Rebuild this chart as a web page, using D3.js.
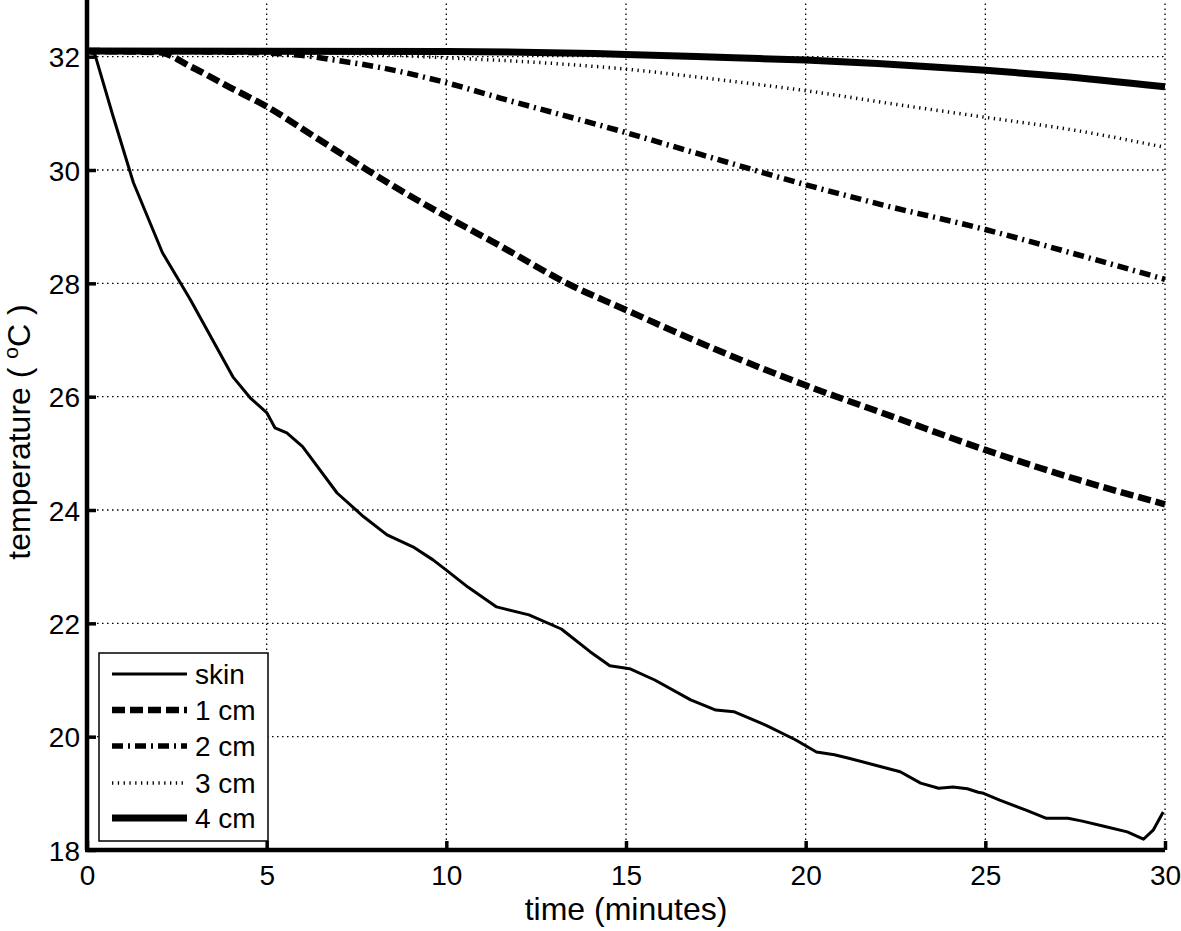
<!DOCTYPE html>
<html><head><meta charset="utf-8">
<script src="https://cdn.jsdelivr.net/npm/d3@7"></script>
<style>body{margin:0;background:#fff}svg{display:block}text{font-family:"Liberation Sans",Arial,sans-serif}</style>
</head><body>
<svg id="c" width="1181" height="931"></svg>
<script>
const xTicks=[0,5,10,15,20,25,30];
const yTicks=[18,20,22,24,26,28,30,32];
const seriesNames=["skin","1 cm","2 cm","3 cm","4 cm"];
const skinT=[0,0.22,0.73,1.29,2.1,2.87,4.06,4.54,5.0,5.23,5.56,6.0,6.96,7.7,8.35,9.07,9.63,10.0,10.6,11.4,12.3,13.2,14.0,14.55,15.1,15.8,16.8,17.5,18.0,18.9,19.7,20.3,20.8,21.2,22.1,22.63,23.2,23.7,24.1,24.5,24.8,24.95,25.4,25.6,26.15,26.7,27.3,27.7,28.3,28.95,29.4,29.67,29.95];
const skinV=[32.1,32.04,30.94,29.78,28.54,27.72,26.35,25.98,25.72,25.45,25.36,25.12,24.3,23.88,23.56,23.35,23.12,22.94,22.64,22.29,22.15,21.9,21.5,21.25,21.2,21.0,20.65,20.47,20.44,20.2,19.95,19.73,19.68,19.62,19.47,19.38,19.18,19.09,19.11,19.08,19.02,19.0,18.88,18.83,18.7,18.56,18.56,18.51,18.42,18.32,18.19,18.35,18.67];
const cm1T=[0,2,2.87,4,5,6.3,7.7,8.7,10,11.5,13.36,15,18,20,22.5,25,27.6,30];
const cm1V=[32.1,32.08,31.83,31.45,31.12,30.6,30.04,29.65,29.18,28.66,28.0,27.53,26.7,26.2,25.63,25.06,24.53,24.1];
const cm2T=[0,4,5.85,7,8.15,10,11.5,15,17.1,20,22.1,25,27.6,30];
const cm2V=[32.1,32.08,32.03,31.93,31.81,31.54,31.27,30.66,30.27,29.74,29.39,28.95,28.5,28.07];
const cm3T=[0,5,8,10,12.5,15,17.5,20,22.6,25,27.5,30];
const cm3V=[32.1,32.08,32.04,31.98,31.9,31.78,31.6,31.4,31.15,30.93,30.7,30.4];
const cm4T=[0,10,15,18,20,22,25,27,30];
const cm4V=[32.1,32.09,32.04,31.98,31.94,31.88,31.76,31.66,31.47];

const svg=d3.select("#c");
const L=87,R=1165,T=0,B=850;
const x=d3.scaleLinear().domain([0,30]).range([L,R]);
const y=d3.scaleLinear().domain([18,33]).range([B,T]);

// grid
const g=svg.append("g");
g.selectAll("line.vg").data(xTicks.filter(d=>d>0)).join("line")
 .attr("x1",d=>x(d)).attr("x2",d=>x(d)).attr("y1",B).attr("y2",T)
 .attr("stroke","#000").attr("stroke-width",1.3).attr("stroke-dasharray","1.5,3.5");
g.selectAll("line.hg").data(yTicks.filter(d=>d>18)).join("line")
 .attr("x1",L).attr("x2",R).attr("y1",d=>y(d)).attr("y2",d=>y(d))
 .attr("stroke","#000").attr("stroke-width",1.3).attr("stroke-dasharray","1.5,3.5");

// series
const styles=[
 {w:3,dash:null},
 {w:6.5,dash:"13,5"},
 {w:5.5,dash:"11,5,2,5"},
 {w:3.5,dash:"1.3,4.5"},
 {w:7,dash:null}
];
const data=[
 skinT.map((t,i)=>[t,skinV[i]]),
 cm1T.map((t,i)=>[t,cm1V[i]]),
 cm2T.map((t,i)=>[t,cm2V[i]]),
 cm3T.map((t,i)=>[t,cm3V[i]]),
 cm4T.map((t,i)=>[t,cm4V[i]])
];
const lineLin=d3.line().x(d=>x(d[0])).y(d=>y(d[1]));
const lineSm=d3.line().x(d=>x(d[0])).y(d=>y(d[1])).curve(d3.curveMonotoneX);
data.forEach((s,i)=>{
  svg.append("path").attr("d",(i===0?lineLin:lineSm)(s)).attr("fill","none")
   .attr("stroke","#000").attr("stroke-width",styles[i].w)
   .attr("stroke-dasharray",styles[i].dash).attr("stroke-linejoin","round");
});

// axes
const ax=svg.append("g").attr("transform",`translate(0,${B})`)
 .call(d3.axisBottom(x).tickValues(xTicks).tickSizeInner(-9).tickSizeOuter(0));
const ay=svg.append("g").attr("transform",`translate(${L},0)`)
 .call(d3.axisLeft(y).tickValues(yTicks).tickSizeInner(-9).tickSizeOuter(0).tickPadding(7));
[ax,ay].forEach(a=>{
  a.select(".domain").attr("stroke","#000").attr("stroke-width",4.5);
  a.selectAll(".tick line").attr("stroke","#000").attr("stroke-width",3.5);
  a.selectAll(".tick text").attr("font-size",28).attr("fill","#000").attr("font-family",'"Liberation Sans",Arial,sans-serif');
});
ay.select(".domain").attr("d",`M0,${B}V${T}`);
ax.select(".domain").attr("d",`M${L-2},0H${R}`);
ax.selectAll(".tick text").attr("dy",null).attr("y",35);
ay.selectAll(".tick text").attr("dy","0.36em");

// axis titles
svg.append("text").attr("x",(L+R)/2).attr("y",920).attr("text-anchor","middle")
 .attr("font-size",32).text("time (minutes)");
const yt=svg.append("text").attr("transform",`translate(30,${432}) rotate(-90)`).attr("text-anchor","middle").attr("font-size",32);
yt.append("tspan").text("temperature ( ");
yt.append("tspan").attr("font-size",21).attr("dy",-12).text("o");
yt.append("tspan").attr("dy",12).text("C )");

// legend
const lg=svg.append("g");
lg.append("rect").attr("x",99).attr("y",653).attr("width",169).attr("height",188)
 .attr("fill","#fff").attr("stroke","#000").attr("stroke-width",1.5);
const rowY=[674,710,746,783,818];
seriesNames.forEach((n,i)=>{
  lg.append("line").attr("x1",112).attr("x2",187).attr("y1",rowY[i]).attr("y2",rowY[i])
   .attr("stroke","#000").attr("stroke-width",styles[i].w).attr("stroke-dasharray",styles[i].dash);
  lg.append("text").attr("x",195).attr("y",rowY[i]+10).attr("font-size",28).text(n);
});
</script>
</body></html>
